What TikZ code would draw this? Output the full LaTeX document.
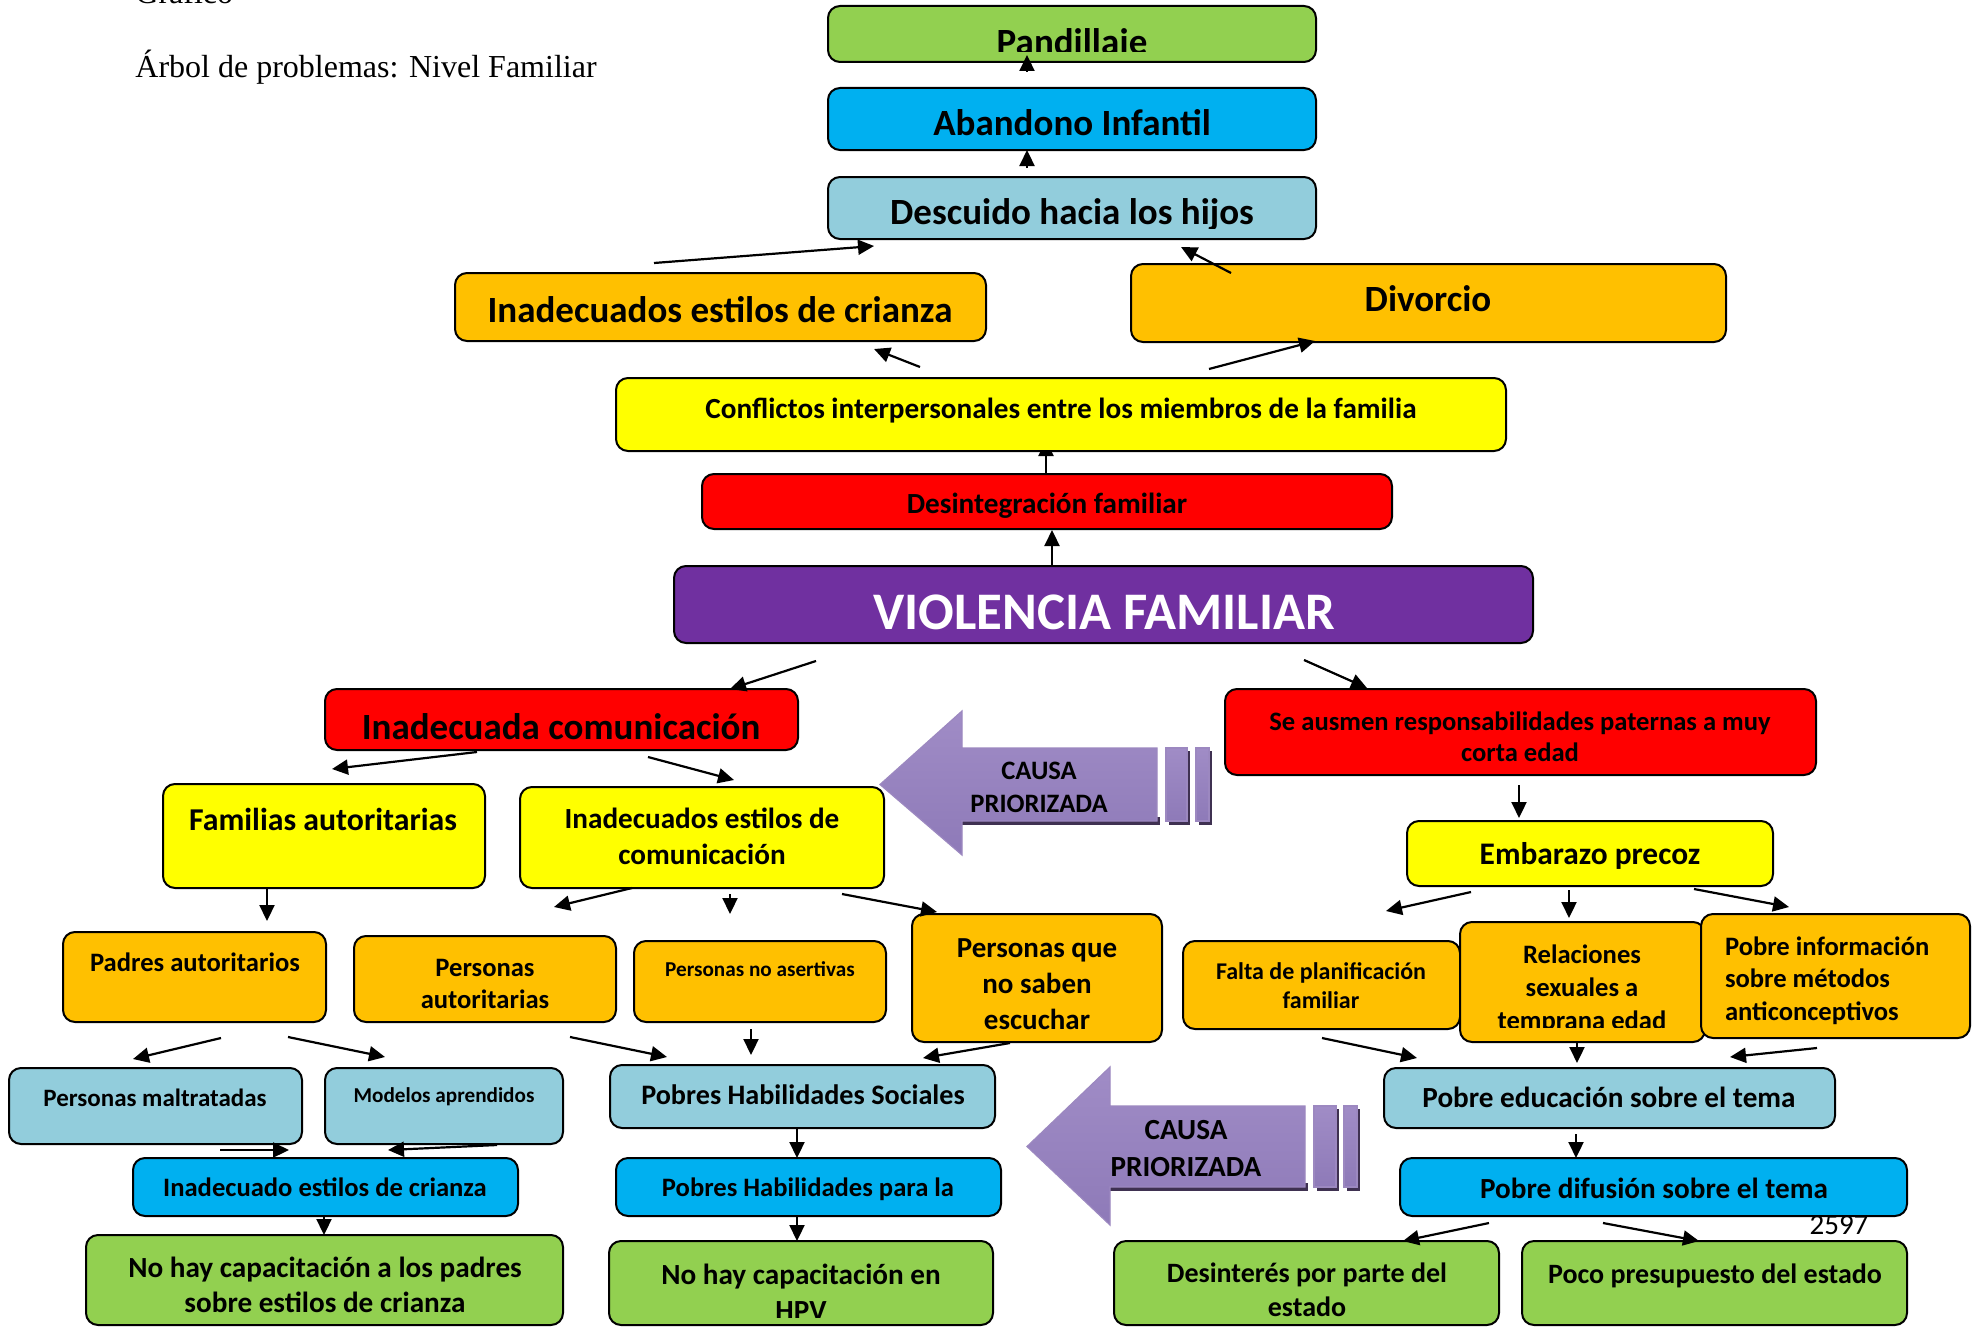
\documentclass[tikz,border=0pt]{standalone}
\usepackage{fontspec}
\setmainfont{Carlito}
\newfontfamily\serifface{Liberation Serif}
\usetikzlibrary{arrows.meta}

\definecolor{cgreen}{HTML}{92D050}
\definecolor{cblue}{HTML}{00B0F0}
\definecolor{clblue}{HTML}{92CDDC}
\definecolor{corange}{HTML}{FFC000}
\definecolor{cyellow}{HTML}{FFFF00}
\definecolor{cred}{HTML}{FF0000}
\definecolor{cpurple}{HTML}{7030A0}
\definecolor{caulight}{HTML}{A08CC6}
\definecolor{caumid}{HTML}{7455A0}
\definecolor{caubottom}{HTML}{8E7AB8}
\definecolor{cauedge}{HTML}{9C88C0}
\definecolor{caushadow}{HTML}{3F3151}

% box: name, x1, y1, x2, y2, fill
\newcommand\bx[6]{\node[box,fill=#6,minimum width={(#4-#2)*0.5pt},minimum height={(#5-#3)*0.5pt}] (#1) at ({(#2+#4)/2},{(#3+#5)/2}) {};}
% one text line: name, x, y (baseline), text, size
\newcommand\tx[5]{\node[lbl,fs=#5] (#1) at (#2,#3) {#4};}
% connector between two named ends
\newcommand\con[5]{\coordinate (#1a) at (#2,#3); \coordinate (#1b) at (#4,#5); \draw[arr] (#1a) -- (#1b);}
% priority arrow: name, tip x, head back x, head top y, head bottom y, shaft top y, shaft bottom y, shaft right x
\newcommand\causearrow[8]{%
  \fill[caushadow] (#3,#7-4) rectangle (#8+3,#7+4);
  \shade[top color=caulight,middle color=caumid,bottom color=caubottom,draw=cauedge,line width=0.6pt]
    (#2,{(#6+#7)/2}) -- (#3,#4) -- (#3,#6) -- (#8,#6) -- (#8,#7) -- (#3,#7) -- (#3,#5) -- cycle;
  \coordinate (#1) at ({(#3+#8)/2},{(#6+#7)/2});
}

\begin{document}
\begin{tikzpicture}[x=0.5pt,y=-0.5pt,
  box/.style={draw=black,line width=1pt,rounded corners=6pt,inner sep=0pt,outer sep=0pt},
  lbl/.style={anchor=base,inner sep=0pt,outer sep=0pt,text=black},
  fs/.style={font=\fontsize{#1}{#1}\selectfont\bfseries},
  arr/.style={line width=1.1pt,-{Triangle[length=8pt,width=7.5pt]}},
  bar/.style={top color=caulight,middle color=caumid,bottom color=caubottom,draw=cauedge,line width=0.6pt},
  barshadow/.style={fill=caushadow}]

\fill[white] (0,0) rectangle (1980,1327);
\useasboundingbox (0,0) rectangle (1980,1327);

% heading of the page
\node[anchor=base west,inner sep=0pt,font=\serifface\fontsize{16}{16}\selectfont] (grafico) at (135,4) {Gráfico};
\node[anchor=base west,inner sep=0pt,font=\serifface\fontsize{16}{16}\selectfont] (arbol) at (135,78) {Árbol de problemas: Nivel Familiar};

% link hidden mostly under the box above it
\con{c7}{1046}{474}{1046}{440}

% ---------- effects ----------
\bx{pand}{828}{6}{1316}{62}{cgreen}
\bx{aband}{828}{88}{1316}{150}{cblue}
\bx{descu}{828}{177}{1316}{239}{clblue}
\bx{crianza}{455}{273}{986}{341}{corange}
\bx{divor}{1131}{264}{1726}{342}{corange}
\bx{confl}{616}{378}{1506}{451}{cyellow}
\bx{desint}{702}{474}{1392}{529}{cred}
\bx{viol}{674}{566}{1533}{643}{cpurple}

\begin{scope}
  \clip (828,6) rectangle (1316,52);
  \tx{tpand}{1072}{55}{Pandillaje}{18.5}
\end{scope}
\tx{taband}{1072}{135}{Abandono Infantil}{18.5}
\begin{scope}
  \clip (828,177) rectangle (1316,228);
  \tx{tdescu}{1072}{224}{Descuido hacia los hijos}{18.5}
\end{scope}
\tx{tcrianza}{720}{322}{Inadecuados estilos de crianza}{18.5}
\tx{tdivor}{1428}{311}{Divorcio}{18.5}
\tx{tconfl}{1061}{418}{Conflictos interpersonales entre los miembros de la familia}{14.6}
\tx{tdesint}{1047}{513}{Desintegración familiar}{14.6}
\node[lbl,fs=26.4,text=white] (tviol) at (1104,629) {VIOLENCIA FAMILIAR};

% ---------- causes ----------
\bx{inadcom}{325}{689}{798}{750}{cred}
\bx{ausmen}{1225}{689}{1816}{775}{cred}
\bx{famil}{163}{784}{485}{888}{cyellow}
\bx{estcom}{520}{787}{884}{888}{cyellow}
\bx{embar}{1407}{821}{1773}{886}{cyellow}
\bx{padres}{63}{932}{326}{1022}{corange}
\bx{persaut}{354}{936}{616}{1022}{corange}
\bx{noasert}{634}{941}{886}{1022}{corange}
\bx{escuch}{912}{914}{1162}{1042}{corange}
\bx{falta}{1183}{941}{1460}{1029}{corange}
\bx{relac}{1460}{922}{1705}{1042}{corange}
\bx{pinfo}{1701}{914}{1970}{1038}{corange}
\bx{maltr}{9}{1068}{302}{1144}{clblue}
\bx{model}{325}{1068}{563}{1144}{clblue}
\bx{phs}{610}{1065}{995}{1128}{clblue}
\bx{peduc}{1384}{1068}{1835}{1128}{clblue}
\bx{icrianza}{133}{1158}{518}{1216}{cblue}
\bx{parala}{616}{1158}{1001}{1216}{cblue}
\bx{difus}{1400}{1158}{1907}{1216}{cblue}
\bx{nocap}{86}{1235}{563}{1325}{cgreen}
\bx{hpv}{609}{1241}{993}{1325}{cgreen}
\bx{desin}{1114}{1241}{1499}{1325}{cgreen}
\bx{poco}{1522}{1241}{1907}{1325}{cgreen}

\tx{tinadcom}{561}{739}{Inadecuada comunicación}{18.5}
\tx{tausmen1}{1520}{730}{Se ausmen responsabilidades paternas a muy}{13.3}
\tx{tausmen2}{1520}{761}{corta edad}{13.3}
\tx{tfamil}{323}{830}{Familias autoritarias}{15.9}
\tx{testcom1}{702}{828}{Inadecuados estilos de}{14.6}
\tx{testcom2}{702}{864}{comunicación}{14.6}
\tx{tembar}{1590}{864}{Embarazo precoz}{15.7}
\tx{tpadres}{195}{971}{Padres autoritarios}{13.3}
\tx{tpersaut1}{485}{976}{Personas}{13.3}
\tx{tpersaut2}{485}{1008}{autoritarias}{13.3}
\tx{tnoasert}{760}{976}{Personas no asertivas}{10.6}
\begin{scope}
  \clip (912,914) rectangle (1162,1029);
  \tx{tescuch1}{1037}{957}{Personas que}{14.5}
  \tx{tescuch2}{1037}{993}{no saben}{14.5}
  \tx{tescuch3}{1037}{1029}{escuchar}{14.5}
\end{scope}
\tx{tfalta1}{1321}{979}{Falta de planificación}{12}
\tx{tfalta2}{1321}{1008}{familiar}{12}
\begin{scope}
  \clip (1460,922) rectangle (1705,1027);
  \tx{trelac1}{1582}{963}{Relaciones}{13.3}
  \tx{trelac2}{1582}{996}{sexuales a}{13.3}
  \tx{trelac3}{1582}{1029}{temprana edad}{13.3}
\end{scope}
\node[lbl,fs=13.3,anchor=base west] (tpinfo1) at (1725,955) {Pobre información};
\node[lbl,fs=13.3,anchor=base west] (tpinfo2) at (1725,987) {sobre métodos};
\node[lbl,fs=13.3,anchor=base west] (tpinfo3) at (1725,1020) {anticonceptivos};
\tx{tmaltr}{155}{1106}{Personas maltratadas}{12.5}
\tx{tmodel}{444}{1102}{Modelos aprendidos}{10.6}
\tx{tphs}{803}{1104}{Pobres Habilidades Sociales}{14.1}
\tx{tpeduc}{1609}{1107}{Pobre educación sobre el tema}{14.6}
\tx{ticrianza}{325}{1196}{Inadecuado estilos de crianza}{13.3}
\tx{tparala}{808}{1196}{Pobres Habilidades para la}{13.3}
\tx{tdifus}{1654}{1198}{Pobre difusión sobre el tema}{14.6}
\tx{tnocap1}{325}{1277}{No hay capacitación a los padres}{14.6}
\tx{tnocap2}{325}{1312}{sobre estilos de crianza}{14.6}
\begin{scope}
  \clip (609,1241) rectangle (993,1317);
  \tx{thpv1}{801}{1284}{No hay capacitación en}{14.6}
  \tx{thpv2}{801}{1320}{HPV}{14.6}
\end{scope}
\tx{tdesin1}{1307}{1282}{Desinterés por parte del}{14}
\tx{tdesin2}{1307}{1316}{estado}{14}
\tx{tpoco}{1715}{1283}{Poco presupuesto del estado}{14}
\node[lbl,font=\fontsize{14.5}{14.5}\selectfont] (pagenum) at (1839,1234) {2597};

% ---------- priority arrows ----------
\causearrow{cause1}{880}{962}{711}{855}{748}{821}{1157}
\fill[caushadow] (1169,751) rectangle (1190,825);
\fill[caushadow] (1199,751) rectangle (1212,825);
\path[bar] (1166,748) rectangle (1187,821);
\path[bar] (1196,748) rectangle (1209,821);
\node[lbl,fs=13.3] (cause1a) at (1039,779) {CAUSA};
\node[lbl,fs=13.3] (cause1b) at (1039,812) {PRIORIZADA};

\causearrow{cause2}{1027}{1110}{1067}{1225}{1106}{1187}{1305}
\fill[caushadow] (1317,1109) rectangle (1339,1191);
\fill[caushadow] (1347,1109) rectangle (1360,1191);
\path[bar] (1314,1106) rectangle (1336,1187);
\path[bar] (1344,1106) rectangle (1357,1187);
\node[lbl,fs=14.6] (cause2a) at (1186,1139) {CAUSA};
\node[lbl,fs=14.6] (cause2b) at (1186,1176) {PRIORIZADA};

% ---------- connectors ----------
\con{c1}{1027}{72}{1027}{55}
\con{c2}{1027}{168}{1027}{150}
\con{c3}{654}{263}{874}{246}
\con{c4}{1231}{273}{1181}{247}
\con{c5}{920}{367}{874}{349}
\con{c6}{1209}{369}{1315}{341}
\con{c8}{1052}{565}{1052}{530}
\con{c9}{816}{661}{730}{689}
\con{c10}{1304}{660}{1367}{688}
\con{c11}{477}{752}{332}{769}
\con{c12}{648}{757}{734}{780}
\con{c13}{1519}{785}{1519}{818}
\con{c14}{267}{889}{267}{921}
\con{c15}{632}{888}{554}{907}
\con{c16}{730}{894}{730}{914}
\con{c17}{842}{894}{937}{912}
\con{c18}{1471}{892}{1386}{911}
\con{c19}{1569}{890}{1569}{918}
\con{c20}{1694}{889}{1789}{907}
\con{c21}{221}{1038}{133}{1059}
\con{c22}{288}{1037}{385}{1057}
\con{c23}{570}{1037}{667}{1057}
\con{c24}{751}{1029}{751}{1055}
\con{c25}{1010}{1043}{923}{1058}
\con{c26}{1322}{1038}{1417}{1058}
\con{c27}{1577}{1042}{1577}{1063}
\con{c28}{1817}{1048}{1730}{1057}
\con{c29}{220}{1150}{289}{1150}
\con{c30}{497}{1145}{388}{1150}
\con{c31}{324}{1216}{324}{1235}
\con{c32}{797}{1128}{797}{1158}
\con{c33}{797}{1216}{797}{1241}
\con{c34}{1576}{1134}{1576}{1158}
\con{c35}{1489}{1223}{1403}{1241}
\con{c36}{1603}{1223}{1699}{1241}

\end{tikzpicture}
\end{document}
